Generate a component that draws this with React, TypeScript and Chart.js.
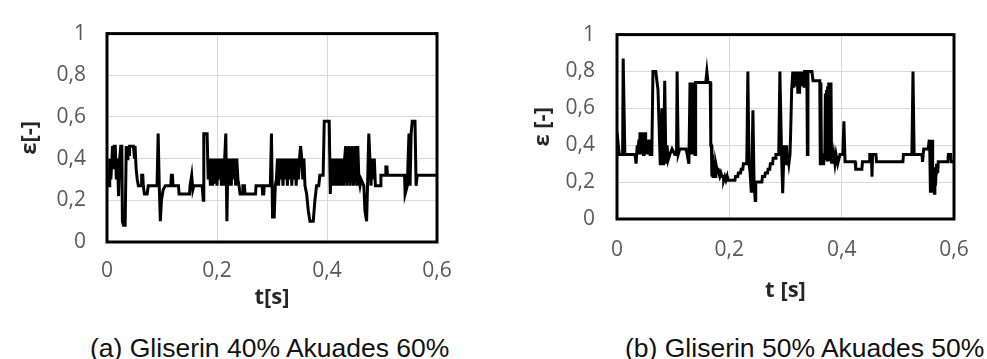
import React, { useEffect, useRef } from "react";
import { Chart, registerables } from "chart.js";

Chart.register(...registerables);

// ---- Data ----
// (a) Gliserin 40% Akuades 60%
const tA = [
  0.000, 0.002, 0.004, 0.005, 0.007, 0.009, 0.010, 0.012, 0.013, 0.015, 0.017, 0.019, 0.021, 0.023,
  0.025, 0.027, 0.028, 0.030, 0.033, 0.035, 0.037, 0.038, 0.040, 0.041, 0.048, 0.050, 0.051, 0.053,
  0.055, 0.057, 0.062, 0.063, 0.065, 0.066, 0.068, 0.073, 0.075, 0.091, 0.093, 0.095, 0.097, 0.099,
  0.102, 0.106, 0.116, 0.117, 0.119, 0.120, 0.130, 0.131, 0.150, 0.151, 0.154, 0.156, 0.158, 0.164,
  0.173, 0.175, 0.176, 0.182, 0.184, 0.186, 0.188, 0.190, 0.192, 0.194, 0.196, 0.198, 0.200, 0.202,
  0.204, 0.206, 0.208, 0.210, 0.212, 0.214, 0.216, 0.218, 0.220, 0.222, 0.224, 0.226, 0.228, 0.230,
  0.232, 0.234, 0.236, 0.238, 0.240, 0.242, 0.246, 0.247, 0.250, 0.251, 0.270, 0.271, 0.282, 0.283,
  0.285, 0.286, 0.297, 0.299, 0.301, 0.304, 0.306, 0.308, 0.310, 0.312, 0.314, 0.316, 0.318, 0.320,
  0.322, 0.324, 0.326, 0.328, 0.330, 0.332, 0.334, 0.336, 0.338, 0.340, 0.342, 0.344, 0.346, 0.348,
  0.350, 0.352, 0.354, 0.356, 0.358, 0.360, 0.363, 0.366, 0.369, 0.375, 0.378, 0.381, 0.385, 0.387,
  0.393, 0.395, 0.404, 0.406, 0.408, 0.410, 0.412, 0.414, 0.416, 0.418, 0.420, 0.422, 0.424, 0.426,
  0.428, 0.430, 0.432, 0.434, 0.436, 0.438, 0.440, 0.442, 0.444, 0.446, 0.448, 0.450, 0.452, 0.454,
  0.456, 0.458, 0.460, 0.462, 0.467, 0.469, 0.472, 0.474, 0.476, 0.478, 0.480, 0.482, 0.484, 0.486,
  0.488, 0.491, 0.497, 0.498, 0.506, 0.507, 0.509, 0.510, 0.541, 0.542, 0.546, 0.549, 0.551, 0.553,
  0.555, 0.560, 0.562, 0.564, 0.600,
];
const epsA = [
  0.27, 0.35, 0.27, 0.40, 0.30, 0.40, 0.46, 0.35, 0.46, 0.46, 0.30, 0.40, 0.22, 0.40,
  0.46, 0.46, 0.10, 0.08, 0.08, 0.46, 0.40, 0.46, 0.42, 0.46, 0.46, 0.40, 0.46, 0.35,
  0.30, 0.27, 0.27, 0.32, 0.32, 0.27, 0.23, 0.23, 0.27, 0.27, 0.52, 0.27, 0.10, 0.20,
  0.25, 0.27, 0.27, 0.32, 0.32, 0.27, 0.27, 0.23, 0.23, 0.27, 0.32, 0.25, 0.27, 0.27,
  0.27, 0.20, 0.52, 0.52, 0.30, 0.40, 0.27, 0.40, 0.27, 0.40, 0.28, 0.40, 0.27, 0.40,
  0.30, 0.40, 0.27, 0.40, 0.27, 0.40, 0.52, 0.10, 0.40, 0.27, 0.40, 0.27, 0.40, 0.30,
  0.40, 0.27, 0.40, 0.30, 0.27, 0.23, 0.23, 0.27, 0.27, 0.23, 0.23, 0.27, 0.27, 0.23,
  0.23, 0.27, 0.27, 0.52, 0.12, 0.12, 0.27, 0.30, 0.40, 0.27, 0.40, 0.30, 0.40, 0.27,
  0.40, 0.30, 0.40, 0.27, 0.40, 0.30, 0.40, 0.27, 0.40, 0.30, 0.40, 0.27, 0.40, 0.30,
  0.40, 0.46, 0.40, 0.30, 0.40, 0.27, 0.23, 0.15, 0.10, 0.10, 0.20, 0.27, 0.27, 0.32,
  0.32, 0.58, 0.58, 0.23, 0.40, 0.27, 0.40, 0.27, 0.40, 0.27, 0.40, 0.27, 0.40, 0.27,
  0.40, 0.27, 0.40, 0.46, 0.27, 0.40, 0.46, 0.27, 0.40, 0.46, 0.27, 0.40, 0.46, 0.27,
  0.46, 0.30, 0.27, 0.30, 0.27, 0.15, 0.10, 0.30, 0.52, 0.40, 0.27, 0.40, 0.30, 0.40,
  0.27, 0.27, 0.27, 0.32, 0.32, 0.36, 0.36, 0.32, 0.32, 0.23, 0.27, 0.52, 0.27, 0.52,
  0.58, 0.58, 0.27, 0.32, 0.32,
];

// (b) Gliserin 50% Akuades 50%
const tB = [
  0.000, 0.004, 0.010, 0.011, 0.014, 0.032, 0.034, 0.036, 0.037, 0.039, 0.040, 0.041, 0.042, 0.043,
  0.044, 0.045, 0.046, 0.047, 0.048, 0.049, 0.050, 0.051, 0.052, 0.053, 0.054, 0.056, 0.057, 0.059,
  0.062, 0.064, 0.069, 0.071, 0.073, 0.075, 0.077, 0.078, 0.080, 0.082, 0.083, 0.085, 0.087, 0.089,
  0.091, 0.094, 0.098, 0.103, 0.106, 0.107, 0.109, 0.112, 0.123, 0.125, 0.128, 0.130, 0.131, 0.132,
  0.133, 0.134, 0.135, 0.136, 0.137, 0.138, 0.139, 0.140, 0.141, 0.158, 0.160, 0.162, 0.166, 0.167,
  0.168, 0.169, 0.170, 0.171, 0.172, 0.173, 0.174, 0.175, 0.176, 0.178, 0.180, 0.181, 0.183, 0.185,
  0.187, 0.189, 0.190, 0.192, 0.194, 0.196, 0.197, 0.210, 0.211, 0.215, 0.216, 0.220, 0.221, 0.224,
  0.225, 0.231, 0.233, 0.235, 0.237, 0.239, 0.240, 0.242, 0.244, 0.246, 0.247, 0.258, 0.259, 0.263,
  0.264, 0.268, 0.269, 0.272, 0.273, 0.277, 0.278, 0.282, 0.283, 0.288, 0.290, 0.293, 0.295, 0.297,
  0.298, 0.299, 0.300, 0.301, 0.302, 0.303, 0.304, 0.306, 0.308, 0.309, 0.311, 0.313, 0.314, 0.315,
  0.316, 0.317, 0.318, 0.319, 0.320, 0.321, 0.322, 0.323, 0.324, 0.325, 0.326, 0.327, 0.328, 0.329,
  0.330, 0.331, 0.332, 0.333, 0.334, 0.336, 0.338, 0.339, 0.340, 0.347, 0.349, 0.361, 0.362, 0.363,
  0.364, 0.365, 0.367, 0.368, 0.370, 0.371, 0.372, 0.373, 0.374, 0.375, 0.376, 0.377, 0.378, 0.379,
  0.380, 0.381, 0.382, 0.383, 0.384, 0.386, 0.388, 0.390, 0.393, 0.397, 0.402, 0.404, 0.406, 0.424,
  0.425, 0.436, 0.437, 0.449, 0.450, 0.453, 0.454, 0.455, 0.461, 0.462, 0.509, 0.510, 0.525, 0.527,
  0.529, 0.543, 0.544, 0.546, 0.554, 0.556, 0.557, 0.558, 0.559, 0.560, 0.561, 0.562, 0.563, 0.564,
  0.565, 0.566, 0.567, 0.568, 0.569, 0.571, 0.572, 0.589, 0.590, 0.594, 0.595, 0.600,
];
const epsB = [
  0.47, 0.35, 0.35, 0.87, 0.35, 0.35, 0.30, 0.40, 0.35, 0.43, 0.35, 0.47, 0.40, 0.47,
  0.35, 0.47, 0.43, 0.35, 0.43, 0.35, 0.47, 0.35, 0.43, 0.35, 0.43, 0.35, 0.43, 0.35,
  0.35, 0.80, 0.80, 0.75, 0.70, 0.50, 0.30, 0.35, 0.60, 0.30, 0.35, 0.75, 0.30, 0.40,
  0.32, 0.35, 0.38, 0.35, 0.35, 0.80, 0.35, 0.38, 0.38, 0.35, 0.30, 0.74, 0.35, 0.74,
  0.40, 0.74, 0.35, 0.74, 0.40, 0.74, 0.35, 0.74, 0.74, 0.74, 0.80, 0.74, 0.74, 0.40,
  0.40, 0.23, 0.35, 0.23, 0.32, 0.23, 0.30, 0.23, 0.30, 0.27, 0.27, 0.25, 0.23, 0.25,
  0.23, 0.23, 0.21, 0.23, 0.21, 0.23, 0.21, 0.21, 0.23, 0.23, 0.25, 0.25, 0.27, 0.27,
  0.30, 0.30, 0.80, 0.30, 0.25, 0.15, 0.25, 0.59, 0.20, 0.10, 0.20, 0.20, 0.23, 0.23,
  0.25, 0.25, 0.27, 0.27, 0.30, 0.30, 0.33, 0.33, 0.35, 0.35, 0.80, 0.35, 0.14, 0.35,
  0.40, 0.30, 0.40, 0.30, 0.40, 0.30, 0.35, 0.30, 0.35, 0.45, 0.70, 0.80, 0.72, 0.80,
  0.75, 0.80, 0.72, 0.80, 0.75, 0.80, 0.68, 0.80, 0.72, 0.68, 0.80, 0.75, 0.80, 0.72,
  0.80, 0.75, 0.80, 0.72, 0.80, 0.80, 0.80, 0.35, 0.80, 0.80, 0.75, 0.75, 0.30, 0.74,
  0.30, 0.35, 0.30, 0.35, 0.35, 0.68, 0.32, 0.70, 0.32, 0.72, 0.32, 0.74, 0.32, 0.74,
  0.32, 0.74, 0.30, 0.35, 0.30, 0.35, 0.30, 0.35, 0.30, 0.35, 0.35, 0.53, 0.31, 0.31,
  0.27, 0.27, 0.31, 0.31, 0.35, 0.35, 0.23, 0.35, 0.35, 0.31, 0.31, 0.35, 0.35, 0.80,
  0.35, 0.35, 0.31, 0.38, 0.38, 0.43, 0.35, 0.15, 0.30, 0.20, 0.43, 0.30, 0.15, 0.25,
  0.14, 0.28, 0.18, 0.25, 0.30, 0.25, 0.31, 0.31, 0.35, 0.35, 0.31, 0.31,
];

const xTickValues = [0, 0.2, 0.4, 0.6];
const yTickValues = [0, 0.2, 0.4, 0.6, 0.8, 1];

const fmt = (v: number) => String(Number(v.toFixed(2))).replace(".", ",");

const framePlugin = {
  id: "frame",
  afterDatasetsDraw(chart: any) {
    const { ctx, chartArea } = chart;
    ctx.save();
    ctx.strokeStyle = "#000";
    ctx.lineWidth = 3;
    ctx.strokeRect(chartArea.left, chartArea.top, chartArea.right - chartArea.left, chartArea.bottom - chartArea.top);
    ctx.restore();
  },
};

type Geom = {
  width: number;
  height: number;
  yAxisWidth: number;
  xAxisHeight: number;
  padTop: number;
  padRight: number;
  yLabelPad: number;
  yTitlePad: number;
  xLabelPad: number;
  xTitlePad: number;
  xTitle: string;
  yTitle: string;
};

function makeConfig(t: number[], eps: number[], g: Geom): any {
  const tickFont = { family: "'Open Sans', sans-serif", size: 21 };
  const titleFont = { family: "'Open Sans', sans-serif", size: 22, weight: "bold" as const };
  return {
    type: "line",
    data: {
      datasets: [
        {
          data: t.map((x, i) => ({ x, y: eps[i] })),
          borderColor: "#000",
          borderWidth: 3,
          pointRadius: 0,
          tension: 0,
          fill: false,
          borderJoinStyle: "miter",
        },
      ],
    },
    options: {
      animation: false,
      responsive: false,
      events: [],
      layout: { autoPadding: false, padding: { top: g.padTop, right: g.padRight, left: 0, bottom: 0 } },
      plugins: { legend: { display: false }, tooltip: { enabled: false } },
      scales: {
        x: {
          type: "linear",
          min: 0,
          max: 0.6,
          afterBuildTicks: (s: any) => {
            s.ticks = xTickValues.map((v) => ({ value: v }));
          },
          afterFit: (s: any) => {
            s.height = g.xAxisHeight;
          },
          grid: { color: "#d9d9d9", lineWidth: 1, drawTicks: false },
          border: { display: false },
          ticks: { color: "#595959", font: tickFont, padding: g.xLabelPad, maxRotation: 0, callback: (v: number) => fmt(v) },
          title: { display: true, text: g.xTitle, color: "#262626", font: titleFont, padding: { top: 0, bottom: g.xTitlePad } },
        },
        y: {
          type: "linear",
          min: 0,
          max: 1,
          afterBuildTicks: (s: any) => {
            s.ticks = yTickValues.map((v) => ({ value: v }));
          },
          afterFit: (s: any) => {
            s.width = g.yAxisWidth;
          },
          grid: { color: "#d9d9d9", lineWidth: 1, drawTicks: false },
          border: { display: false },
          ticks: { color: "#595959", font: tickFont, padding: g.yLabelPad, callback: (v: number) => fmt(v) },
          title: { display: true, text: g.yTitle, color: "#262626", font: titleFont, padding: { top: g.yTitlePad, bottom: 0 } },
        },
      },
    },
    plugins: [framePlugin],
  };
}

const geomA: Geom = {
  width: 480, height: 320, yAxisWidth: 107, xAxisHeight: 78, padTop: 21, padRight: 43,
  yLabelPad: 21, yTitlePad: 17, xLabelPad: 16, xTitlePad: 9, xTitle: "t[s]", yTitle: "ε[-]",
};
const geomB: Geom = {
  width: 497, height: 320, yAxisWidth: 127, xAxisHeight: 101, padTop: 22, padRight: 33,
  yLabelPad: 22, yTitlePad: 40, xLabelPad: 18, xTitlePad: 16, xTitle: "t [s]", yTitle: "ε [-]",
};

function Plot({ t, eps, g, left }: { t: number[]; eps: number[]; g: Geom; left: number }) {
  const ref = useRef<HTMLCanvasElement | null>(null);
  useEffect(() => {
    if (!ref.current) return;
    const chart = new Chart(ref.current, makeConfig(t, eps, g));
    return () => chart.destroy();
  }, []);
  return (
    <canvas
      ref={ref}
      width={g.width}
      height={g.height}
      style={{ position: "absolute", left, top: 0, width: g.width, height: g.height }}
    />
  );
}

const captionStyle: React.CSSProperties = {
  position: "absolute",
  top: 335,
  fontFamily: "'Liberation Sans', Arial, sans-serif",
  fontSize: 26.5,
  lineHeight: 1,
  color: "#111",
  whiteSpace: "nowrap",
};

export default function App() {
  return (
    <div style={{ position: "absolute", left: 0, top: 0, width: 987, height: 359, background: "#fff", overflow: "hidden" }}>
      <Plot t={tA} eps={epsA} g={geomA} left={0} />
      <Plot t={tB} eps={epsB} g={geomB} left={490} />
      <div style={{ ...captionStyle, left: 90 }}>(a) Gliserin 40% Akuades 60%</div>
      <div style={{ ...captionStyle, left: 625 }}>(b) Gliserin 50% Akuades 50%</div>
    </div>
  );
}
